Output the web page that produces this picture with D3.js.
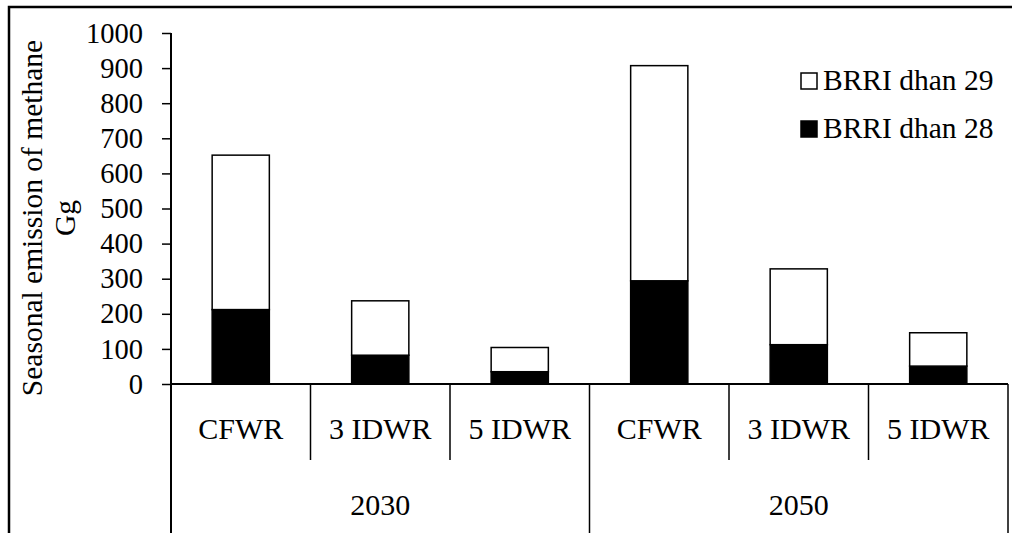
<!DOCTYPE html>
<html>
<head>
<meta charset="utf-8">
<script src="https://cdn.jsdelivr.net/npm/d3@7"></script>
<style>
  html, body { margin: 0; padding: 0; background: #fff; }
  svg { display: block; }
</style>
</head>
<body>
<svg id="chart" width="1012" height="533"></svg>
<script>
// ---- data ----
const years = ["2030", "2050"];
const treatments = ["CFWR", "3 IDWR", "5 IDWR"];
const dhan28 = [212, 82, 35, 294, 112, 51];
const dhan29 = [440, 155, 69, 613, 216, 95];
const seriesNames = ["BRRI dhan 29", "BRRI dhan 28"];
const yTicks = [0, 100, 200, 300, 400, 500, 600, 700, 800, 900, 1000];

// ---- layout ----
const W = 1012, H = 533;
const plot = { left: 171, right: 1008, top: 33, bottom: 384 };
const FONT = "Liberation Serif";

const svg = d3.select("#chart");

// outer chart border (cropped at right/bottom)
svg.append("rect")
  .attr("x", 9).attr("y", 7)
  .attr("width", W + 20).attr("height", H + 20)
  .attr("fill", "none").attr("stroke", "#000").attr("stroke-width", 2.5);

const keys = [];
years.forEach(y => treatments.forEach(t => keys.push(y + "|" + t)));
const rows = keys.map((k, i) => ({ key: k, year: k.split("|")[0], treat: k.split("|")[1], d28: dhan28[i], d29: dhan29[i] }));

const x = d3.scaleBand().domain(keys).range([plot.left, plot.right]).paddingInner(0.59).paddingOuter(0.295);
const xStep = d3.scaleBand().domain(keys).range([plot.left, plot.right]).padding(0);
const y = d3.scaleLinear().domain([0, 1000]).range([plot.bottom, plot.top]);

const stacked = d3.stack().keys(["d28", "d29"])(rows);
const fills = { d28: "#000", d29: "#fff" };

stacked.forEach(layer => {
  svg.append("g").selectAll("rect").data(layer).join("rect")
    .attr("x", d => x(d.data.key))
    .attr("width", x.bandwidth())
    .attr("y", d => y(d[1]))
    .attr("height", d => y(d[0]) - y(d[1]))
    .attr("fill", fills[layer.key])
    .attr("stroke", "#000")
    .attr("stroke-width", 1.5);
});

// y axis
const yAxis = d3.axisLeft(y).tickValues(yTicks).tickSize(9).tickPadding(19).tickFormat(d3.format("d"));
const gy = svg.append("g").attr("transform", `translate(${plot.left},0)`).call(yAxis)
  .attr("font-family", FONT).attr("font-size", 28.5);
gy.select(".domain").remove();
gy.selectAll(".tick line").attr("stroke", "#000").attr("stroke-width", 1.5);
gy.selectAll(".tick text").attr("fill", "#000");
svg.append("line").attr("x1", plot.left).attr("x2", plot.left)
  .attr("y1", plot.top).attr("y2", H).attr("stroke", "#000").attr("stroke-width", 2);

// x baseline
svg.append("line").attr("x1", plot.left).attr("x2", plot.right)
  .attr("y1", plot.bottom).attr("y2", plot.bottom).attr("stroke", "#000").attr("stroke-width", 2);

// category separators
keys.forEach((k, i) => {
  if (i === 0) return;
  const xx = xStep(k);
  const isGroup = i % treatments.length === 0;
  svg.append("line").attr("x1", xx).attr("x2", xx)
    .attr("y1", plot.bottom).attr("y2", isGroup ? H : 460)
    .attr("stroke", "#000").attr("stroke-width", 1.5);
});
svg.append("line").attr("x1", plot.right).attr("x2", plot.right)
  .attr("y1", plot.bottom).attr("y2", H).attr("stroke", "#000").attr("stroke-width", 1.5);

// category labels
svg.append("g").selectAll("text").data(rows).join("text")
  .attr("x", d => xStep(d.key) + xStep.bandwidth() / 2)
  .attr("y", 439)
  .attr("text-anchor", "middle")
  .attr("font-size", 30)
  .attr("font-family", FONT)
  .text(d => d.treat);

// year labels
years.forEach(yr => {
  const first = xStep(yr + "|" + treatments[0]);
  const last = xStep(yr + "|" + treatments[treatments.length - 1]) + xStep.bandwidth();
  svg.append("text")
    .attr("x", (first + last) / 2).attr("y", 515)
    .attr("text-anchor", "middle").attr("font-size", 30)
    .attr("font-family", FONT)
    .text(yr);
});

// y axis title
const title = svg.append("text")
  .attr("transform", "rotate(-90)")
  .attr("text-anchor", "middle").attr("font-size", 29.5)
  .attr("font-family", FONT);
title.append("tspan").attr("x", -218).attr("y", 42).text("Seasonal emission of methane");
title.append("tspan").attr("x", -218).attr("y", 75).text("Gg");

// legend
const legendFill = ["#fff", "#000"];
seriesNames.forEach((name, i) => {
  const base = 90 + i * 48;
  svg.append("rect").attr("x", 801).attr("y", base - 17).attr("width", 16).attr("height", 16)
    .attr("fill", legendFill[i]).attr("stroke", "#000").attr("stroke-width", 1.5);
  svg.append("text").attr("x", 823).attr("y", base).attr("font-size", 29.5)
    .attr("font-family", FONT).text(name);
});
</script>
</body>
</html>
